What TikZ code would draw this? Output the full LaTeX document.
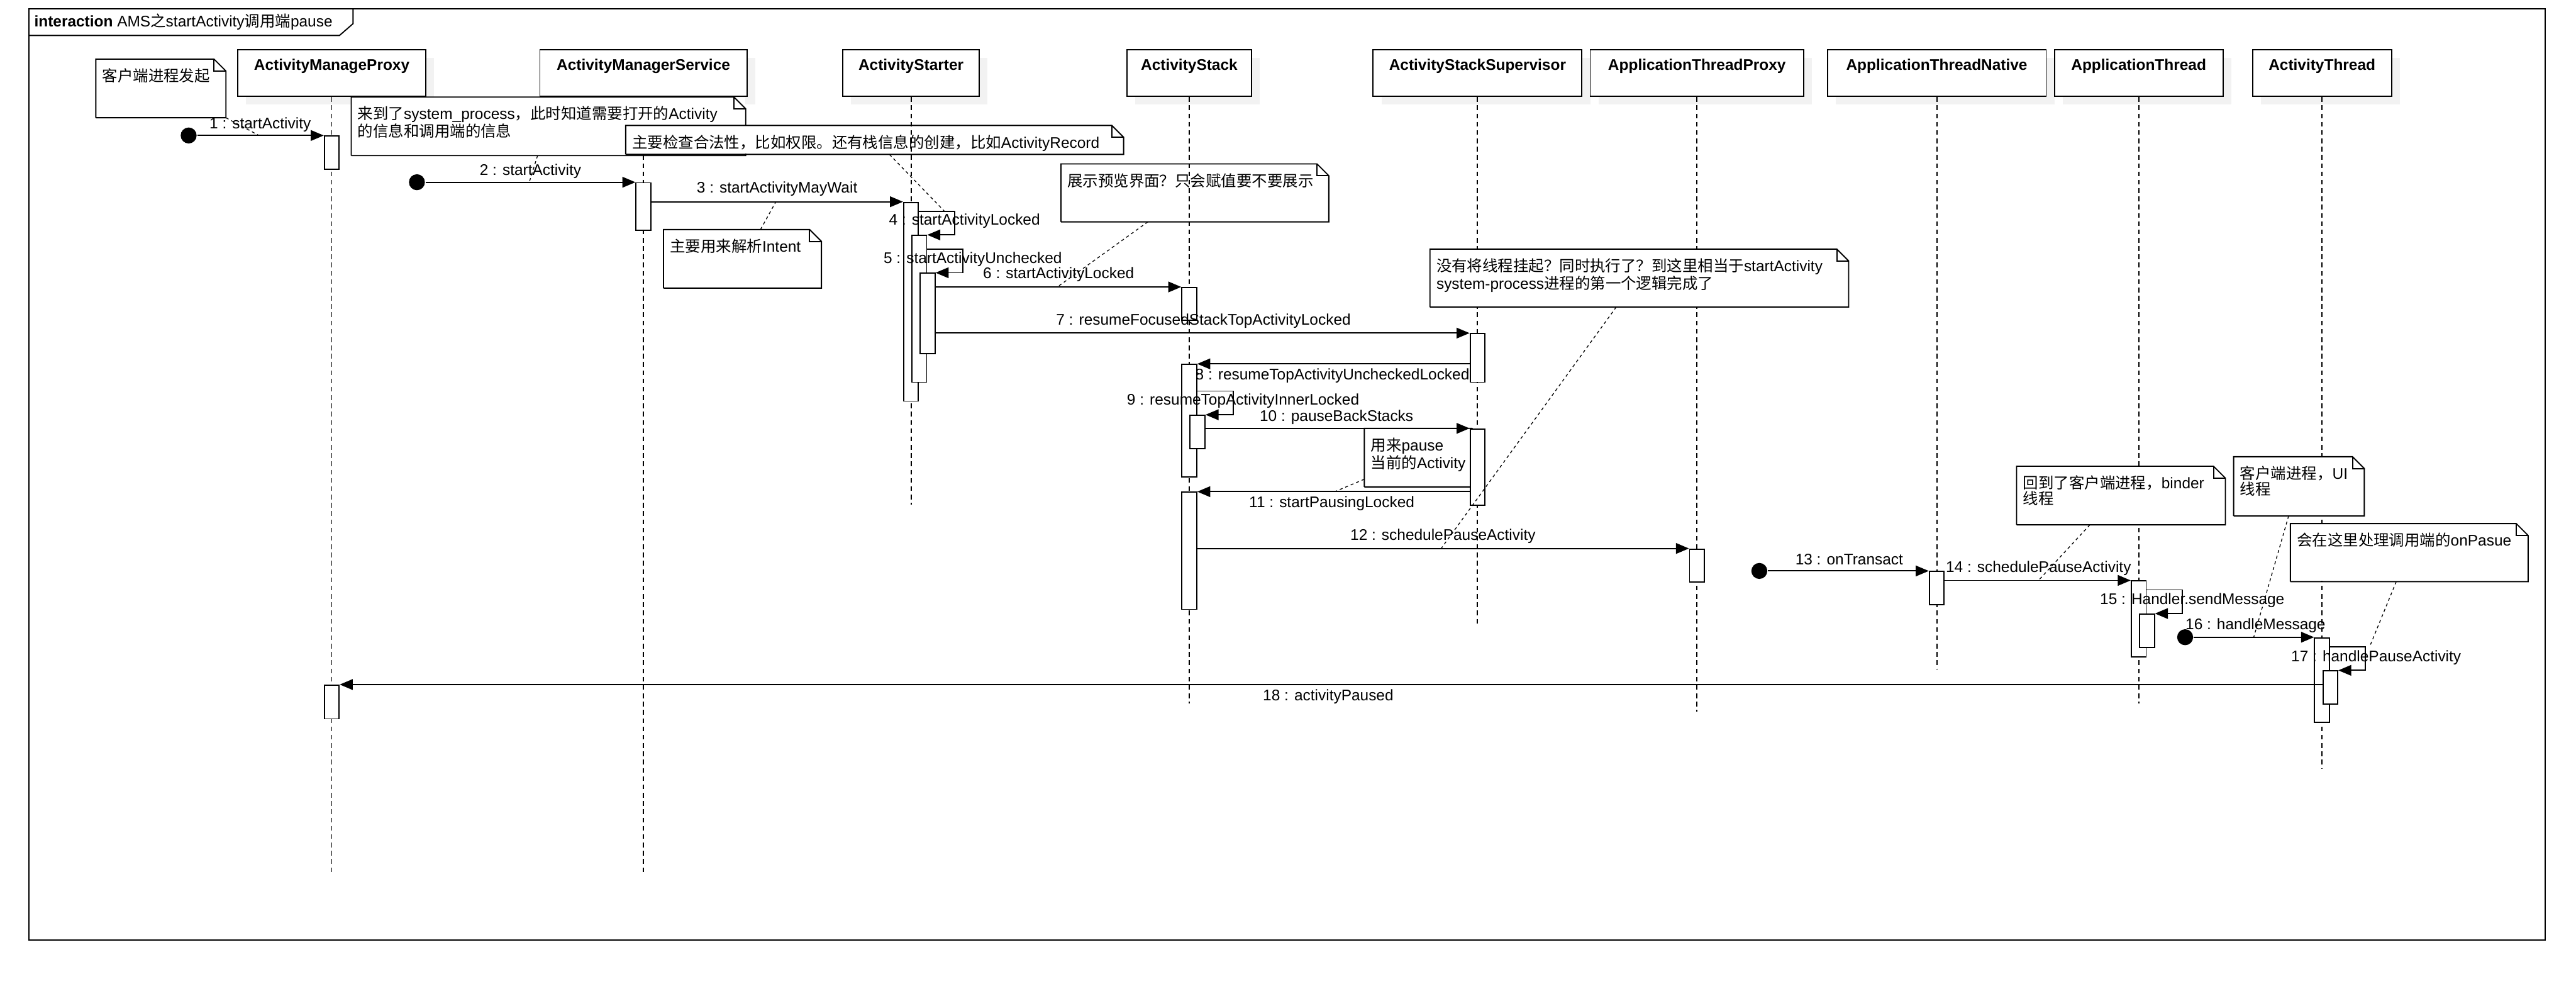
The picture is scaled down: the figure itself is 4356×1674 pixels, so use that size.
\documentclass[tikz,border=0pt]{standalone}
\usepackage{fontspec}
\setmainfont{Liberation Sans}
\newfontfamily\cjk{Noto Sans CJK SC}
\usetikzlibrary{arrows.meta,shadows}
\definecolor{shadowgray}{HTML}{F2F2F2}

\begin{document}
\begin{tikzpicture}[x=0.5pt, y=-0.5pt, line width=1pt, font=\fontsize{13}{13}\selectfont,
  >={Triangle[length=11pt,width=9pt]},
  head/.style={draw, fill=white, font=\fontsize{13}{13}\selectfont\bfseries, inner sep=0pt,
    text height=17.5pt, text depth=22pt,
    drop shadow={shadow xshift=7pt, shadow yshift=-7pt, fill=shadowgray, opacity=1}},
  lifeline/.style={dash pattern=on 4pt off 3pt},
  act/.style={draw, fill=white, inner sep=0pt, minimum width=12.5pt, anchor=north},
  msg/.style={->},
  found/.style={circle, fill=black, inner sep=0pt, minimum size=13.5pt},
  lbl/.style={inner sep=0pt},
  note/.style 2 args={anchor=north west, fill=white, inner xsep=5pt, inner ysep=0pt,
    text width=#1, text height=18.5pt, text depth=#2, align=left},
  link/.style={line width=0.7pt, dash pattern=on 2.5pt off 2.5pt}]
\useasboundingbox (0,0) rectangle (4356,1674);

\draw (49,15) rectangle (4304,1589);
\draw (49,60) -- (574,60) -- (597,40) -- (597,15);
\node[anchor=west, inner sep=0pt] (title) at (57,37) {\textbf{interaction} AMS{\cjk 之}startActivity{\cjk 调用端}pause};

\node[head, minimum width=159pt] (amp) at (561,123.5) {ActivityManageProxy};
\node[head, minimum width=175pt] (ams) at (1088,123.5) {ActivityManagerService};
\node[head, minimum width=115.5pt] (starter) at (1540.5,123.5) {ActivityStarter};
\node[head, minimum width=105pt] (stack) at (2011,123.5) {ActivityStack};
\node[head, minimum width=176.5pt] (sup) at (2498.5,123.5) {ActivityStackSupervisor};
\node[head, minimum width=180.5pt] (atp) at (2869.5,123.5) {ApplicationThreadProxy};
\node[head, minimum width=185pt] (atn) at (3275,123.5) {ApplicationThreadNative};
\node[head, minimum width=142.5pt] (apt) at (3616.5,123.5) {ApplicationThread};
\node[head, minimum width=117.5pt] (actt) at (3926.5,123.5) {ActivityThread};

\draw[lifeline] (ams.south) -- (ams.south |- 0,1477);

\node[note={99pt}{30pt}] (note1) at (162,100) {{\cjk 客户端进程发起}};
\draw (note1.south west) |- ([xshift=-10pt]note1.north east) -- ([yshift=-10pt]note1.north east) |- (note1.south west);
\draw ([xshift=-10pt]note1.north east) |- ([yshift=-10pt]note1.north east);

\node[note={322.5pt}{30pt}] (note2) at (594,164) {{\cjk 来到了}system\_process{\cjk ，此时知道需要打开的}Activity\\{\cjk 的信息和调用端的信息}};
\draw (note2.south west) |- ([xshift=-10pt]note2.north east) -- ([yshift=-10pt]note2.north east) |- (note2.south west);
\draw ([xshift=-10pt]note2.north east) |- ([yshift=-10pt]note2.north east);

\node[note={410pt}{5pt}] (note3) at (1058,212) {{\cjk 主要检查合法性，比如权限。还有栈信息的创建，比如}ActivityRecord};
\draw (note3.south west) |- ([xshift=-10pt]note3.north east) -- ([yshift=-10pt]note3.north east) |- (note3.south west);
\draw ([xshift=-10pt]note3.north east) |- ([yshift=-10pt]note3.north east);

\node[note={122.5pt}{30pt}] (note4) at (1122,388) {{\cjk 主要用来解析}Intent};
\draw (note4.south west) |- ([xshift=-10pt]note4.north east) -- ([yshift=-10pt]note4.north east) |- (note4.south west);
\draw ([xshift=-10pt]note4.north east) |- ([yshift=-10pt]note4.north east);

\node[note={215.5pt}{29.5pt}] (note5) at (1794,277) {{\cjk 展示预览界面？只会赋值要不要展示}};
\draw (note5.south west) |- ([xshift=-10pt]note5.north east) -- ([yshift=-10pt]note5.north east) |- (note5.south west);
\draw ([xshift=-10pt]note5.north east) |- ([yshift=-10pt]note5.north east);

\draw[lifeline] (amp.south) -- (amp.south |- 0,1477);
\draw[lifeline] (starter.south) -- (starter.south |- 0,853);
\draw[lifeline] (stack.south) -- (stack.south |- 0,1189);
\draw[lifeline] (sup.south) -- (sup.south |- 0,1056);
\draw[lifeline] (atp.south) -- (atp.south |- 0,1203);
\draw[lifeline] (atn.south) -- (atn.south |- 0,1131);
\draw[lifeline] (apt.south) -- (apt.south |- 0,1189);
\draw[lifeline] (actt.south) -- (actt.south |- 0,1300);

\node[note={343pt}{29.5pt}] (note6) at (2418,421) {{\cjk 没有将线程挂起？同时执行了？到这里相当于}startActivity\\system-process{\cjk 进程的第一个逻辑完成了}};
\draw (note6.south west) |- ([xshift=-10pt]note6.north east) -- ([yshift=-10pt]note6.north east) |- (note6.south west);
\draw ([xshift=-10pt]note6.north east) |- ([yshift=-10pt]note6.north east);

\node[note={90pt}{30pt}] (note7) at (2307,724) {{\cjk 用来}pause\\{\cjk 当前的}Activity};
\draw (note7.south west) |- ([xshift=-10pt]note7.north east) -- ([yshift=-10pt]note7.north east) |- (note7.south west);
\draw ([xshift=-10pt]note7.north east) |- ([yshift=-10pt]note7.north east);

\node[note={165.5pt}{30pt}] (note8) at (3410,788) {{\cjk 回到了客户端进程，}binder\\{\cjk 线程}};
\draw (note8.south west) |- ([xshift=-10pt]note8.north east) -- ([yshift=-10pt]note8.north east) |- (note8.south west);
\draw ([xshift=-10pt]note8.north east) |- ([yshift=-10pt]note8.north east);

\node[note={99.5pt}{30.5pt}] (note9) at (3777,772) {{\cjk 客户端进程，}UI\\{\cjk 线程}};
\draw (note9.south west) |- ([xshift=-10pt]note9.north east) -- ([yshift=-10pt]note9.north east) |- (note9.south west);
\draw ([xshift=-10pt]note9.north east) |- ([yshift=-10pt]note9.north east);

\node[note={190pt}{29.5pt}] (note10) at (3873,885) {{\cjk 会在这里处理调用端的}onPasue};
\draw (note10.south west) |- ([xshift=-10pt]note10.north east) -- ([yshift=-10pt]note10.north east) |- (note10.south west);
\draw ([xshift=-10pt]note10.north east) |- ([yshift=-10pt]note10.north east);

\node[lbl] (l8) at (2253,635) {8 : resumeTopActivityUncheckedLocked};

\node[act, minimum height=28pt] (p1) at (561,229) {};
\node[act, minimum height=28.5pt] (p2) at (561,1157) {};
\node[act, minimum height=40pt] (s1) at (1088,308) {};
\node[act, minimum height=168pt] (t1) at (1540.5,341) {};
\node[act, minimum height=124pt] (t2) at (1554.5,397) {};
\node[act, minimum height=68pt] (t3) at (1568.5,461) {};
\node[act, minimum height=27.5pt] (k1) at (2011,485) {};
\node[act, minimum height=95pt] (k2) at (2011,615) {};
\node[act, minimum height=28pt] (k3) at (2025,701) {};
\node[act, minimum height=99pt] (k4) at (2011,831) {};
\node[act, minimum height=41pt] (v1) at (2498.5,563) {};
\node[act, minimum height=64.5pt] (v2) at (2498.5,724) {};
\node[act, minimum height=28pt] (x1) at (2869.5,927) {};
\node[act, minimum height=28pt] (na) at (3275,965) {};
\node[act, minimum height=64pt] (h1) at (3616.5,981) {};
\node[act, minimum height=28pt] (h2) at (3630.5,1037) {};
\node[act, minimum height=71.5pt] (r1) at (3926.5,1077) {};
\node[act, minimum height=28pt] (r2) at (3940.5,1133) {};

\node[found] (f1) at (319,229) {};
\node[found] (f2) at (705,308) {};
\node[found] (f3) at (2975,965) {};
\node[found] (f4) at (3695,1077) {};

\draw[msg] (f1) -- (p1.north west);
\draw[msg] (f2) -- (s1.north west);
\draw[msg] (s1.east |- t1.north) -- (t1.north west);
\draw[msg] (t1.east |- 0,357) -- ++(60,0) |- (t2.north east);
\draw[msg] (t2.east |- 0,421) -- ++(60,0) |- (t3.north east);
\draw[msg] (t3.east |- k1.north) -- (k1.north west);
\draw[msg] (t3.east |- v1.north) -- (v1.north west);
\draw[msg] (v1.west |- k2.north) -- (k2.north east);
\draw[msg] (k2.east |- 0,661) -- ++(61,0) |- (k3.north east);
\draw[msg] (k3.east |- v2.north) -- (v2.north west);
\draw[msg] (v2.west |- k4.north) -- (k4.north east);
\draw[msg] (k4.east |- x1.north) -- (x1.north west);
\draw[msg] (f3) -- (na.north west);
\draw[msg] (na.east |- h1.north) -- (h1.north west);
\draw[msg] (h1.east |- 0,997) -- ++(60,0) |- (h2.north east);
\draw[msg] (f4) -- (r1.north west);
\draw[msg] (r1.east |- 0,1093) -- ++(60,0) |- (r2.north east);
\draw[msg] (r2.west |- p2.north) -- (p2.north east);

\node[lbl] (l1) at (440,211) {1 : startActivity};
\node[lbl] (l2) at (897,289) {2 : startActivity};
\node[lbl] (l3) at (1314,319) {3 : startActivityMayWait};
\node[lbl] (l4) at (1631,374) {4 : startActivityLocked};
\node[lbl] (l5) at (1645,438) {5 : startActivityUnchecked};
\node[lbl] (l6) at (1790,464) {6 : startActivityLocked};
\node[lbl] (l7) at (2035,543) {7 : resumeFocusedStackTopActivityLocked};
\node[lbl] (l9) at (2102,678) {9 : resumeTopActivityInnerLocked};
\node[lbl] (l10) at (2260,705) {10 : pauseBackStacks};
\node[lbl] (l11) at (2252,851) {11 : startPausingLocked};
\node[lbl] (l12) at (2440,906) {12 : schedulePauseActivity};
\node[lbl] (l13) at (3127,945) {13 : onTransact};
\node[lbl] (l14) at (3447,961) {14 : schedulePauseActivity};
\node[lbl] (l15) at (3707,1015) {15 : Handler.sendMessage};
\node[lbl] (l16) at (3814,1057) {16 : handleMessage};
\node[lbl] (l17) at (4018,1111) {17 : handlePauseActivity};
\node[lbl] (l18) at (2246,1177) {18 : activityPaused};

\coordinate (c1) at (438,229);
\coordinate (c2) at (895,308);
\coordinate (c3) at (1597,357);
\coordinate (c4) at (1312,341);
\coordinate (c5) at (1788,485);
\coordinate (c6) at (2437,927);
\coordinate (c7) at (2257,831);
\coordinate (c8) at (3447,981);
\coordinate (c9) at (3811,1077);
\coordinate (c10) at (4007,1093);
\draw[link] (note1.south east) -- (c1);
\draw[link] (note2.south -| 909,0) -- (c2);
\draw[link] (note3.south -| 1504,0) -- (c3);
\draw[link] (note4.north -| 1286,0) -- (c4);
\draw[link] (note5.south -| 1941,0) -- (c5);
\draw[link] (note6.south -| 2733,0) -- (c6);
\draw[link] (note7.west |- 0,810) -- (c7);
\draw[link] (note8.south -| 3534,0) -- (c8);
\draw[link] (note9.south -| 3870,0) -- (c9);
\draw[link] (note10.south -| 4052,0) -- (c10);
\end{tikzpicture}
\end{document}
